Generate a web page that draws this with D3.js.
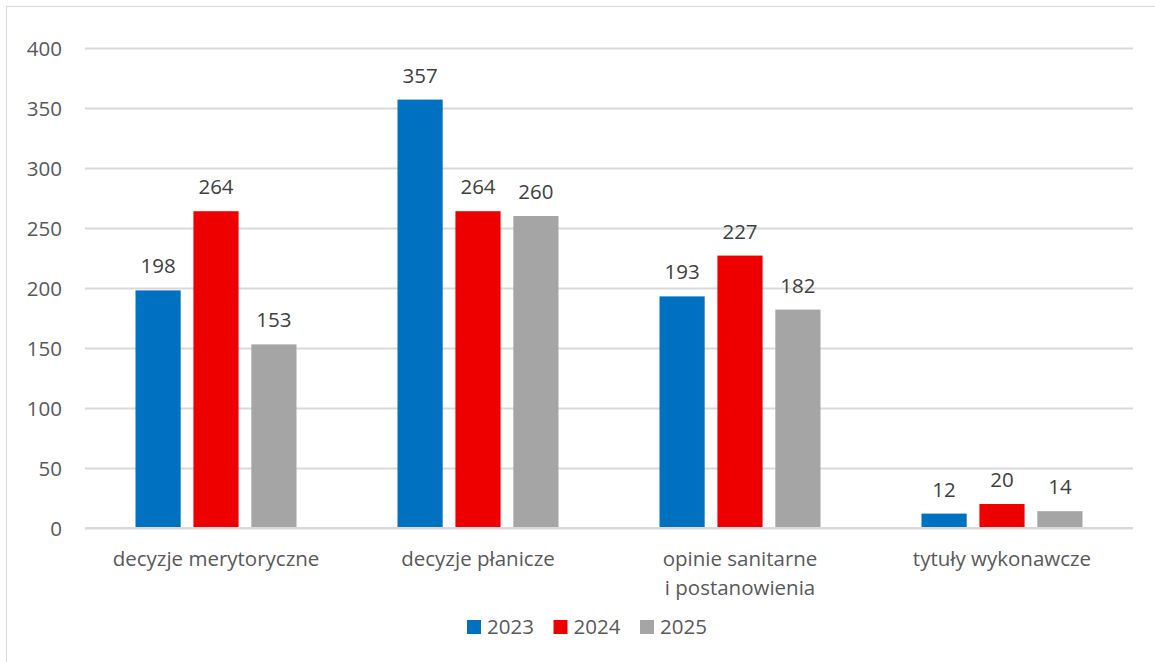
<!DOCTYPE html>
<html>
<head>
<meta charset="utf-8">
<script src="https://cdn.jsdelivr.net/npm/d3@7"></script>
<style>
  body { margin: 0; background: #fff; }
  svg text { font-family: "Open Sans", "Noto Sans", sans-serif; }
</style>
</head>
<body>
<svg id="bar-chart" width="1155" height="662"></svg>
<script>
const categories = ['decyzje merytoryczne', 'decyzje płanicze', 'opinie sanitarne\ni postanowienia', 'tytuły wykonawcze'];
const years = ['2023', '2024', '2025'];
const values2023 = [198, 357, 193, 12];
const values2024 = [264, 264, 227, 20];
const values2025 = [153, 260, 182, 14];
const yTicks = [0, 50, 100, 150, 200, 250, 300, 350, 400];
const colors = ['#0070c0', '#ee0000', '#a5a5a5'];

const svg = d3.select('#bar-chart');
const width = +svg.attr('width');
const height = +svg.attr('height');

// chart frame
svg.append('rect')
    .attr('x', 6.5).attr('y', 6.5)
    .attr('width', width - 6).attr('height', height - 6)
    .attr('fill', 'none')
    .attr('stroke', '#d9d9d9');

const margin = { top: 48, right: 22, bottom: 134, left: 85 };
const innerWidth = width - margin.left - margin.right;
const innerHeight = height - margin.top - margin.bottom;
const fontSize = '20.5px';

const series = [values2023, values2024, values2025];
const flat = [];
categories.forEach((c, i) => {
    years.forEach((yr, j) => {
        flat.push({ cat: c, year: yr, value: series[j][i], color: colors[j] });
    });
});

const x = d3.scaleBand().domain(categories).range([0, innerWidth]);
const x1 = d3.scaleBand().domain(years).range([0, 161]).paddingInner(0.22);
const y = d3.scaleLinear().domain([0, 400]).range([innerHeight, 0]);
const barX = d => x(d.cat) + (x.bandwidth() - 161) / 2 + x1(d.year);

const g = svg.append('g')
    .attr('transform', `translate(${margin.left},${margin.top})`);

// gridlines + y labels
const yAxis = d3.axisLeft(y).tickValues(yTicks).tickSize(-innerWidth).tickPadding(23);
const yAxisG = g.append('g').call(yAxis);
yAxisG.select('.domain').remove();
yAxisG.selectAll('line').attr('stroke', '#d9d9d9').attr('stroke-width', 2);
yAxisG.selectAll('text')
    .attr('dy', null)
    .attr('y', 7)
    .attr('fill', '#595959')
    .style('font-size', fontSize);

// bars
g.selectAll('.bar')
    .data(flat)
    .enter().append('rect')
    .attr('class', 'bar')
    .attr('x', barX)
    .attr('width', x1.bandwidth())
    .attr('y', d => y(d.value))
    .attr('height', d => innerHeight - y(d.value))
    .attr('fill', d => d.color);

g.selectAll('.label')
    .data(flat)
    .enter().append('text')
    .attr('class', 'label')
    .attr('x', d => barX(d) + x1.bandwidth() / 2)
    .attr('y', d => y(d.value) - 17)
    .attr('text-anchor', 'middle')
    .attr('fill', '#404040')
    .style('font-size', fontSize)
    .text(d => d.value);

// x axis line + category labels
g.append('line')
    .attr('x1', 0).attr('x2', innerWidth)
    .attr('y1', innerHeight).attr('y2', innerHeight)
    .attr('stroke', '#d9d9d9').attr('stroke-width', 2);

const catText = g.selectAll('.cat')
    .data(categories)
    .enter().append('text')
    .attr('class', 'cat')
    .attr('text-anchor', 'middle')
    .attr('fill', '#595959')
    .style('font-size', fontSize)
    .attr('x', d => x(d) + x.bandwidth() / 2)
    .attr('y', innerHeight + 38);

catText.selectAll('tspan')
    .data(d => d.split('\n').map(t => ({ t: t, cx: x(d) + x.bandwidth() / 2 })))
    .enter().append('tspan')
    .attr('x', d => d.cx)
    .attr('dy', (d, i) => i === 0 ? 0 : 29)
    .text(d => d.t);

// legend
const legend = svg.append('g').attr('transform', 'translate(467,627)');
const legendItems = legend.selectAll('g')
    .data(years)
    .enter().append('g')
    .attr('transform', (d, i) => `translate(${i * 86.5},0)`);

legendItems.append('rect')
    .attr('x', 0).attr('y', -7)
    .attr('width', 14).attr('height', 14)
    .attr('fill', (d, i) => colors[i]);

legendItems.append('text')
    .attr('x', 20)
    .attr('y', 7)
    .attr('fill', '#595959')
    .style('font-size', fontSize)
    .text(d => d);
</script>
</body>
</html>
